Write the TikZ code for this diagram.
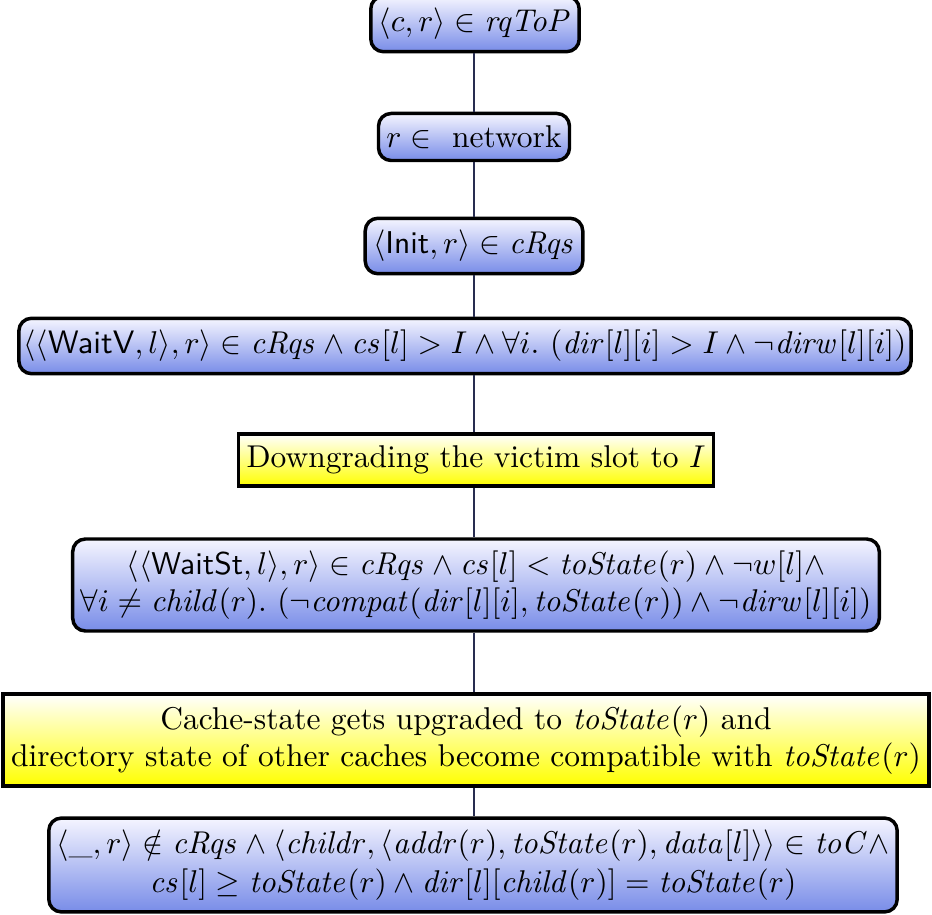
\documentclass[tikz,border=0pt]{standalone}
\usetikzlibrary{calc}
\definecolor{boxblue}{RGB}{120,140,232}
\definecolor{linecol}{RGB}{40,45,80}
\begin{document}
\begin{tikzpicture}[x=0.3175pt,y=-0.3175pt,
  basebox/.style={draw=black, line width=1.1pt, inner xsep=2.5pt, inner ysep=3.8pt, align=center,
    font=\fontsize{10}{11.6}\selectfont},
  bluebox/.style={basebox, rounded corners=4pt, top color=blue!4, bottom color=boxblue},
  yelbox/.style={basebox, top color=white, bottom color=yellow},
  conn/.style={draw=linecol, line width=0.5pt}]
\useasboundingbox (0,0) rectangle (932,915);
\coordinate (spine) at (474,0);
\node[bluebox] (n1) at (475,24) {$\langle c, r\rangle \in \mathit{rqToP}$};
\node[bluebox] (n2) at (474,137) {$r \in$ \ network};
\node[bluebox] (n3) at (474,246) {$\langle \textsf{Init}, r\rangle \in \mathit{cRqs}$};
\node[bluebox, inner xsep=1.5pt, font=\fontsize{10.3}{12}\selectfont] (n4) at (465,346) {$\langle\langle \textsf{WaitV}, l\rangle, r\rangle \in \mathit{cRqs} \wedge \mathit{cs}[l] > I \wedge \forall i.\ (\mathit{dir}[l][i] > I \wedge \neg \mathit{dirw}[l][i])$};
\node[yelbox] (n5) at (476,460) {Downgrading the victim slot to $I$};
\node[bluebox] (n6) at (476,585) {$\langle\langle \textsf{WaitSt}, l\rangle, r\rangle \in \mathit{cRqs} \wedge \mathit{cs}[l] < \mathit{toState}(r) \wedge \neg w[l] \wedge$\\
  $\forall i \neq \mathit{child}(r).\ (\neg \mathit{compat}(\mathit{dir}[l][i], \mathit{toState}(r)) \wedge \neg \mathit{dirw}[l][i])$};
\node[yelbox] (n7) at (466,740) {Cache-state gets upgraded to $\mathit{toState}(r)$ and\\
  directory state of other caches become compatible with $\mathit{toState}(r)$};
\node[bluebox, font=\fontsize{10}{12.2}\selectfont] (n8) at (473,865) {$\langle \_, r\rangle \notin \mathit{cRqs} \wedge \langle \mathit{childr}, \langle \mathit{addr}(r), \mathit{toState}(r), \mathit{data}[l]\rangle\rangle \in \mathit{toC} \wedge$\\
  $\mathit{cs}[l] \geq \mathit{toState}(r) \wedge \mathit{dir}[l][\mathit{child}(r)] = \mathit{toState}(r)$};
\foreach \a/\b in {n1/n2,n2/n3,n3/n4,n4/n5,n5/n6,n6/n7,n7/n8}
  \draw[conn] (\a.south -| spine) -- (\b.north -| spine);
\end{tikzpicture}
\end{document}
